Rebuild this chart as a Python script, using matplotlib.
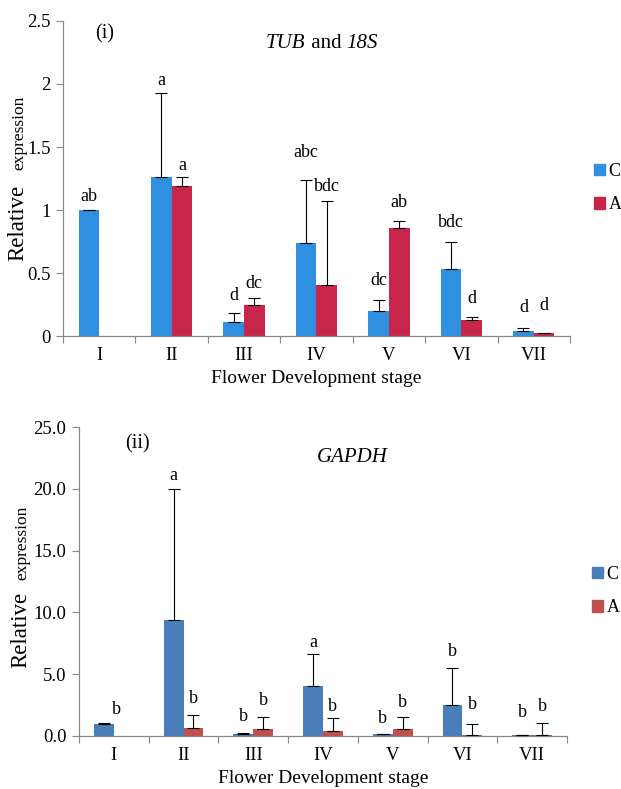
import numpy as np
import matplotlib
matplotlib.use('Agg')
import matplotlib.pyplot as plt
from matplotlib.patches import Patch

plt.rcParams['font.family'] = ['Liberation Serif', 'DejaVu Serif']

stages = ['I', 'II', 'III', 'IV', 'V', 'VI', 'VII']

# (i) TUB and 18S
tub_c = [1.0, 1.26, 0.11, 0.74, 0.20, 0.534, 0.037]
tub_c_top = [1.0, 1.925, 0.185, 1.24, 0.285, 0.75, 0.06]
tub_a = [0.0, 1.193, 0.243, 0.405, 0.857, 0.124, 0.024]
tub_a_top = [0.0, 1.265, 0.30, 1.074, 0.915, 0.153, 0.024]
tub_c_letters = ['ab', 'a', 'd', 'abc', 'dc', 'bdc', 'd']
tub_a_letters = ['', 'a', 'dc', 'bdc', 'ab', 'd', 'd']
tub_c_letter_y = [1.11, 2.03, 0.32, 1.46, 0.44, 0.90, 0.23]
tub_a_letter_y = [0, 1.35, 0.42, 1.19, 1.06, 0.30, 0.24]

# (ii) GAPDH
gap_c = [1.0, 9.35, 0.14, 4.08, 0.16, 2.49, 0.08]
gap_c_top = [1.02, 20.0, 0.27, 6.62, 0.19, 5.49, 0.11]
gap_a = [0.0, 0.62, 0.54, 0.41, 0.54, 0.05, 0.05]
gap_a_top = [0.0, 1.68, 1.57, 1.43, 1.51, 1.0, 1.08]
gap_c_letters = ['b', 'a', 'b', 'a', 'b', 'b', 'b']
gap_a_letters = ['', 'b', 'b', 'b', 'b', 'b', 'b']
gap_c_letter_y = [2.16, 21.1, 1.57, 7.6, 1.43, 6.84, 1.89]
gap_a_letter_y = [0, 3.05, 2.86, 2.38, 2.7, 2.51, 2.38]
gap_c_letter_dx = [0.18, 0, 0, 0, 0, 0, 0]


def panel(ax, c, c_top, a, a_top, c_lab, a_lab, c_ly, a_ly, col_c, col_a,
          ymax, yticks, fmt, c_dx=None):
    x = np.arange(len(stages))
    w = 0.285
    ax.bar(x - w / 2, c, w, color=col_c, zorder=2)
    ax.bar(x + w / 2, a, w, color=col_a, zorder=2)
    err_c = np.array(c_top) - np.array(c)
    err_a = np.array(a_top) - np.array(a)
    ax.errorbar(x - w / 2, c, yerr=[np.zeros(len(c)), err_c], fmt='none',
                ecolor='black', elinewidth=0.8, capsize=4, capthick=0.8, zorder=3)
    mask = np.array(a) > 0
    ax.errorbar((x + w / 2)[mask], np.array(a)[mask],
                yerr=[np.zeros(mask.sum()), err_a[mask]], fmt='none',
                ecolor='black', elinewidth=0.8, capsize=4, capthick=0.8, zorder=3)
    if c_dx is None:
        c_dx = [0] * len(x)
    for i in range(len(x)):
        ax.text(x[i] - w / 2 + c_dx[i], c_ly[i], c_lab[i], ha='center', va='center', fontsize=13)
        if a_lab[i]:
            ax.text(x[i] + w / 2, a_ly[i], a_lab[i], ha='center', va='center', fontsize=13)

    ax.set_xlim(-0.5, len(x) - 0.5)
    ax.set_ylim(0, ymax)
    ax.set_yticks(yticks)
    ax.set_yticklabels([fmt.format(v) for v in yticks], fontsize=13.5)
    ax.set_xticks(np.arange(-0.5, len(x) + 0.5, 1))
    ax.set_xticklabels([])
    ax.set_xticks(x, minor=True)
    ax.set_xticklabels(stages, minor=True, fontsize=13.5)
    ax.tick_params(axis='x', which='minor', length=0, pad=8)
    ax.tick_params(axis='x', which='major', length=5, color='#888888', direction='out')
    ax.tick_params(axis='y', length=5, color='#888888', direction='out', pad=4)
    for s in ['top', 'right']:
        ax.spines[s].set_visible(False)
    for s in ['left', 'bottom']:
        ax.spines[s].set_color('#888888')
        ax.spines[s].set_linewidth(0.9)
    ax.set_xlabel('Flower Development stage', fontsize=14, labelpad=4)


def ylabel(fig, xpx, rel_y, exp_y):
    fig.text(xpx / 621, 1 - rel_y / 789, 'Relative', fontsize=16.5, rotation=90,
             rotation_mode='anchor', ha='center', va='baseline')
    fig.text(xpx / 621, 1 - exp_y / 789, 'expression', fontsize=12.5, rotation=90,
             rotation_mode='anchor', ha='center', va='baseline')


fig = plt.figure(figsize=(6.21, 7.89), dpi=100)

blue1, red1 = '#2F8FE0', '#C8254A'
blue2, red2 = '#4A7EBB', '#C0504D'

ax1 = fig.add_axes([0.1014, 0.5741, 0.8164, 0.3993])
panel(ax1, tub_c, tub_c_top, tub_a, tub_a_top, tub_c_letters, tub_a_letters,
      tub_c_letter_y, tub_a_letter_y, blue1, red1, 2.5,
      [0, 0.5, 1, 1.5, 2, 2.5], '{:g}')
fig.text(105 / 621, 1 - 34 / 789, '(i)', fontsize=14.5, ha='center', va='center')

# title with mixed italic parts, laid out left to right
fig.canvas.draw()
renderer = fig.canvas.get_renderer()
xpos = 266
for part, sty in [('TUB', 'italic'), (' and ', 'normal'), ('18S', 'italic')]:
    t = fig.text(xpos / 621, 1 - 43 / 789, part, fontsize=15, style=sty,
                 ha='left', va='center')
    xpos += t.get_window_extent(renderer).width

ylabel(fig, 23, 223, 133)
ax1.legend(handles=[Patch(color=blue1, label='C'), Patch(color=red1, label='A')],
           loc='upper left', bbox_to_anchor=(594 / 621, 1 - 163 / 789),
           bbox_transform=fig.transFigure, frameon=False, fontsize=13,
           handlelength=0.6, handleheight=0.6, handletextpad=0.2,
           labelspacing=0.9, borderpad=0, borderaxespad=0)

ax2 = fig.add_axes([0.1272, 0.0672, 0.7858, 0.3916])
panel(ax2, gap_c, gap_c_top, gap_a, gap_a_top, gap_c_letters, gap_a_letters,
      gap_c_letter_y, gap_a_letter_y, blue2, red2, 25,
      [0, 5, 10, 15, 20, 25], '{:.1f}', gap_c_letter_dx)
fig.text(137 / 621, 1 - 444 / 789, '(ii)', fontsize=14.5, ha='center', va='center')
fig.text(352 / 621, 1 - 457 / 789, 'GAPDH', fontsize=15, style='italic',
         ha='center', va='center')
ylabel(fig, 26, 630, 543)
ax2.legend(handles=[Patch(color=blue2, label='C'), Patch(color=red2, label='A')],
           loc='upper left', bbox_to_anchor=(592 / 621, 1 - 566 / 789),
           bbox_transform=fig.transFigure, frameon=False, fontsize=13,
           handlelength=0.6, handleheight=0.6, handletextpad=0.2,
           labelspacing=0.9, borderpad=0, borderaxespad=0)

fig.savefig('out.png', dpi=100)
